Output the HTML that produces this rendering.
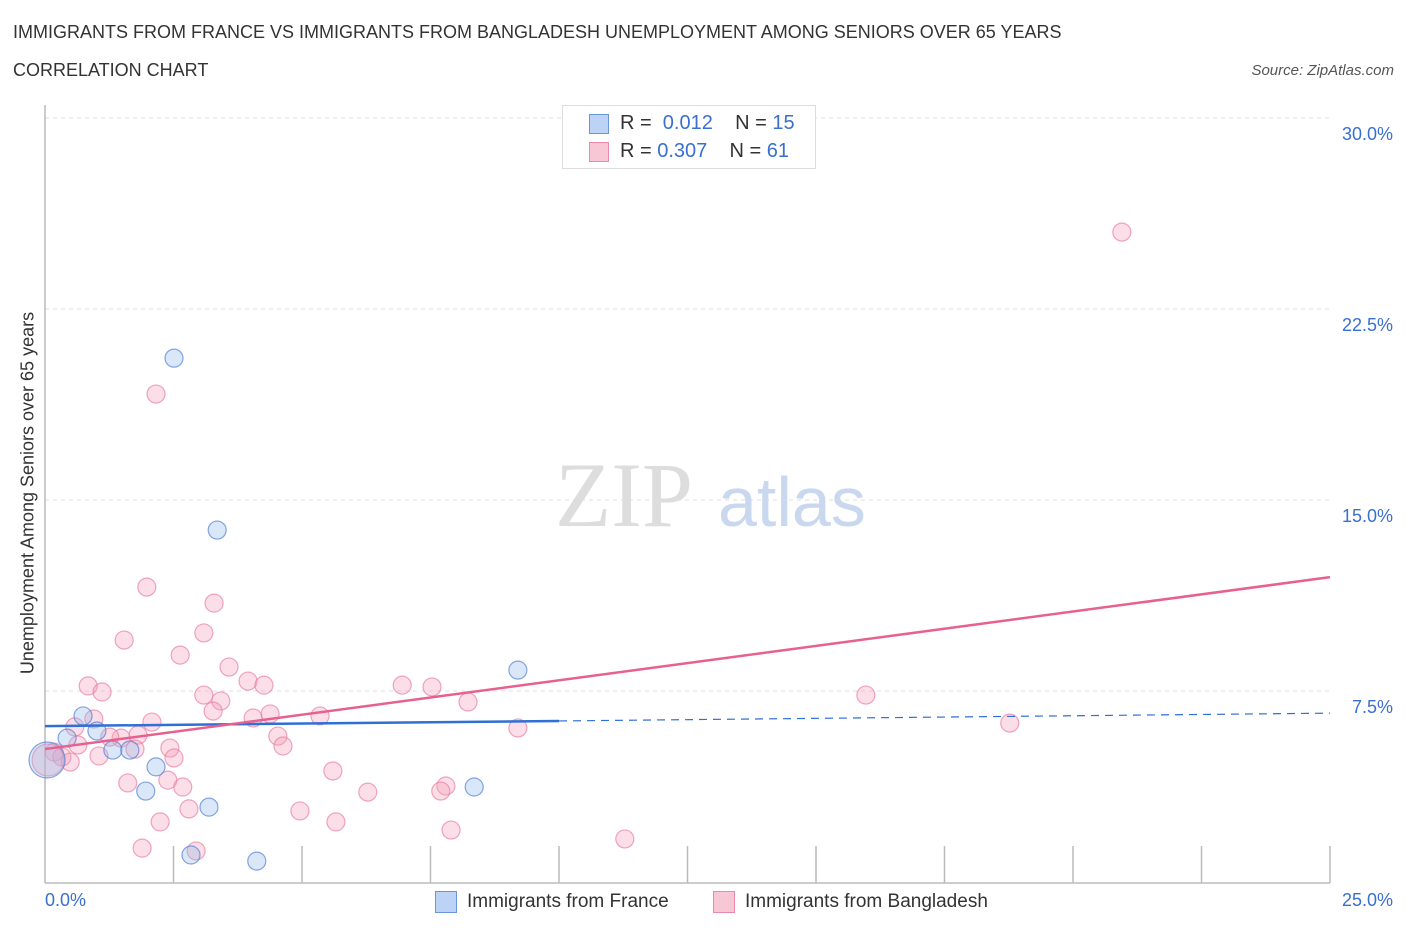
<!DOCTYPE html>
<html><head><meta charset="utf-8">
<style>
body{margin:0;background:#fff;font-family:"Liberation Sans",sans-serif;}
#wrap{position:relative;width:1406px;height:930px;overflow:hidden;}
.t{position:absolute;white-space:nowrap;}
</style></head>
<body>
<div id="wrap">
<div class="t" style="left:13px;top:22px;font-size:18px;color:#333;">IMMIGRANTS FROM FRANCE VS IMMIGRANTS FROM BANGLADESH UNEMPLOYMENT AMONG SENIORS OVER 65 YEARS</div>
<div class="t" style="left:13px;top:60px;font-size:18px;color:#333;">CORRELATION CHART</div>
<div class="t" style="right:12px;top:62px;font-size:15px;color:#555;font-style:italic;">Source: ZipAtlas.com</div>
<svg id="plot" width="1406" height="930" style="position:absolute;left:0;top:0"></svg>
</div>
<script>
const franceX=[0.04,0.43,0.74,1.01,1.32,1.65,1.96,2.16,2.51,2.84,3.19,3.35,4.12,8.35,9.20];
const franceY=[4.79,5.65,6.52,5.93,5.18,5.18,3.57,4.52,20.57,1.06,2.94,13.82,0.82,3.73,8.32];
const bangX=[20.95,2.16,1.98,3.29,1.54,3.09,2.63,3.58,0.84,1.11,3.95,4.26,6.95,7.53,3.09,3.42,3.27,8.23,15.97,2.08,0.95,0.58,5.35,4.05,4.38,18.77,9.20,4.53,4.63,1.81,1.48,1.26,2.43,1.75,2.51,0.18,0.33,0.49,1.05,0.64,1.61,2.39,2.68,5.60,6.28,7.80,7.70,4.96,2.80,2.24,5.66,7.90,11.28,1.89,2.94,0.06];
const bangY=[25.52,19.16,11.58,10.95,9.50,9.78,8.91,8.44,7.70,7.46,7.89,7.73,7.73,7.66,7.34,7.11,6.71,7.07,7.34,6.28,6.40,6.09,6.52,6.44,6.60,6.24,6.05,5.73,5.34,5.77,5.65,5.69,5.26,5.22,4.87,5.10,4.91,4.71,4.95,5.38,3.89,4.00,3.73,4.36,3.53,3.77,3.57,2.79,2.87,2.36,2.36,2.04,1.69,1.33,1.22,4.79];
const yTicks=[7.5,15,22.5,30];
const yTickLabels=["7.5%","15.0%","22.5%","30.0%"];
const franceTrend=[6.12,6.63];
const bangTrend=[5.22,11.97];
const franceSolidEnd=10;

const X=v=>45+v*(1285/25);
const Y=v=>882-v*(191/7.5);
const svg=document.getElementById('plot');
const NS='http://www.w3.org/2000/svg';
function mk(tag,a){const e=document.createElementNS(NS,tag);for(const k in a)e.setAttribute(k,a[k]);svg.appendChild(e);return e;}

yTicks.forEach((t,i)=>{
  const g=mk('line',{x1:45,x2:1330,y1:Y(t),y2:Y(t),stroke:'#ddd','stroke-dasharray':'4,4'});
  
  
  const tx=mk('text',{x:1393,y:Y(t)+22,'text-anchor':'end','font-size':18,fill:'#3a6fd1','font-family':'Liberation Sans, sans-serif'});
  tx.textContent=yTickLabels[i];
  
  
});
// watermark
const wm=mk('text',{x:555,y:526,'font-size':92,fill:'#ddd','font-family':'Liberation Serif, serif'});wm.textContent='ZIP';


const wm2=mk('text',{x:718,y:526,'font-size':70,fill:'#c9d8ee','font-family':'Liberation Sans, sans-serif'});wm2.textContent='atlas';


// axes
const ax=mk('line',{x1:45,x2:45,y1:105,y2:883,stroke:'#bbb','stroke-width':1.5});


const bx=mk('line',{x1:45,x2:1330,y1:883,y2:883,stroke:'#bbb','stroke-width':1.5});


for(let k=1;k<=10;k++){const tk=mk('line',{x1:45+128.5*k,x2:45+128.5*k,y1:846,y2:883,stroke:'#bbb','stroke-width':1.5});

}
// points
bangX.forEach((x,i)=>{const r=i===bangX.length-1?16:9;
const c=mk('circle',{cx:X(x),cy:Y(bangY[i]),r:r,fill:'rgba(244,160,186,0.35)',stroke:'rgba(232,120,155,0.65)','stroke-width':1.2});

});
franceX.forEach((x,i)=>{const r=i===0?18:9;
const c=mk('circle',{cx:X(x),cy:Y(franceY[i]),r:r,fill:'rgba(150,185,235,0.35)',stroke:'rgba(70,120,210,0.65)','stroke-width':1.2});

});
// trends
const fAt=v=>franceTrend[0]+(franceTrend[1]-franceTrend[0])*v/25;
const l1=mk('line',{x1:X(0),y1:Y(fAt(0)),x2:X(franceSolidEnd),y2:Y(fAt(franceSolidEnd)),stroke:'#2f6fd6','stroke-width':2.5});


const l2=mk('line',{x1:X(franceSolidEnd),y1:Y(fAt(franceSolidEnd)),x2:X(25),y2:Y(fAt(25)),stroke:'#2f6fd6','stroke-width':1.2,'stroke-dasharray':'8,6'});


const l3=mk('line',{x1:X(0),y1:Y(bangTrend[0]),x2:X(25),y2:Y(bangTrend[1]),stroke:'#e8608e','stroke-width':2.5});


</script>
<div class="t" style="left:45px;top:890px;font-size:18px;color:#3a6fd1;">0.0%</div>
<div class="t" style="right:13px;top:890px;font-size:18px;color:#3a6fd1;">25.0%</div>
<div class="t" style="left:28px;top:493px;font-size:18px;color:#333;transform:translate(-50%,-50%) rotate(-90deg);">Unemployment Among Seniors over 65 years</div>
<div style="position:absolute;left:562px;top:105px;width:252px;height:62px;border:1px solid #ddd;background:#fff;font-size:20px;">
 <div style="position:absolute;left:26px;top:8px;width:18px;height:18px;background:#bcd3f5;border:1px solid #6b95d9;"></div>
 <div class="t" style="left:57px;top:6px;color:#333;">R = &nbsp;<span style="color:#3a6fd1">0.012</span>&nbsp;&nbsp;&nbsp; N = <span style="color:#3a6fd1">15</span></div>
 <div style="position:absolute;left:26px;top:36px;width:18px;height:18px;background:#f8c7d6;border:1px solid #e88aa8;"></div>
 <div class="t" style="left:57px;top:34px;color:#333;">R = <span style="color:#3a6fd1">0.307</span>&nbsp;&nbsp;&nbsp; N = <span style="color:#3a6fd1">61</span></div>
</div>
<div style="position:absolute;left:435px;top:891px;width:20px;height:20px;background:#bcd3f5;border:1px solid #6b95d9;"></div>
<div class="t" style="left:467px;top:891px;font-size:19px;color:#333;">Immigrants from France</div>
<div style="position:absolute;left:713px;top:891px;width:20px;height:20px;background:#f8c7d6;border:1px solid #e88aa8;"></div>
<div class="t" style="left:745px;top:891px;font-size:19px;color:#333;">Immigrants from Bangladesh</div>
</body></html>
